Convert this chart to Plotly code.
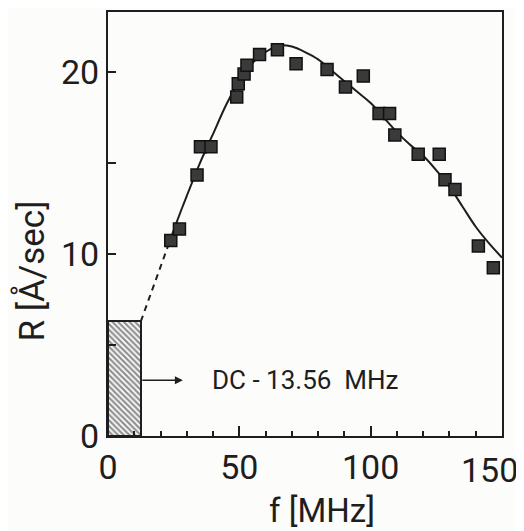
import plotly.graph_objects as go

# Measured deposition rate points (f in MHz, R in Å/sec)
f_points = [23.9, 27.2, 33.9, 35.2, 39.2, 49.0, 49.6, 51.8, 52.9, 57.7, 64.5, 71.6,
            83.4, 90.4, 97.2, 103.2, 107.2, 109.2, 118.1, 126.1, 128.3, 132.1, 141.0, 146.7]
R_points = [10.75, 11.37, 14.34, 15.89, 15.89, 18.63, 19.36, 19.89, 20.38, 20.96, 21.23, 20.45,
            20.14, 19.18, 19.78, 17.72, 17.72, 16.54, 15.48, 15.48, 14.08, 13.54, 10.44, 9.25]

# Fitted curve (solid)
curve_f = [24, 26, 30, 35, 40, 45, 50, 55, 60, 65, 70, 75, 80, 85, 90, 95, 100,
           105, 110, 115, 120, 125, 130, 135, 140, 145, 150]
curve_R = [10.9, 11.7, 13.2, 15.0, 16.6, 18.2, 19.5, 20.5, 21.1, 21.45, 21.4, 21.1, 20.7,
           20.1, 19.5, 18.9, 18.3, 17.5, 16.7, 16.0, 15.4, 14.6, 13.7, 12.6, 11.5, 10.6, 9.8]

# Dashed extrapolation towards the DC - 13.56 MHz band
dashed_f = [12.5, 18, 24]
dashed_R = [6.3, 8.5, 10.9]

# DC - 13.56 MHz band (hatched)
band_f_start = 0.0
band_f_end = 12.5
band_R_top = 6.3

y_tickvals = [0, 5, 10, 15, 20]
y_ticktext = ["0", "", "10", "", "20"]
x_tickvals = [0, 50, 100, 150]
x_ticktext = ["0", "50", "100", ""]
x_last_label = "150"

FONT = "Liberation Sans Narrow, Roboto, Liberation Sans, sans-serif"
INK = "#1e1e1e"
BG = "#fcfcfa"

fig = go.Figure()

fig.add_trace(go.Bar(
    x=[(band_f_start + band_f_end) / 2], y=[band_R_top], width=[band_f_end - band_f_start],
    marker=dict(color="white", line=dict(color=INK, width=2),
                pattern=dict(shape="\\", fgcolor="#222", bgcolor="white", size=4, solidity=0.55)),
    showlegend=False, hoverinfo="skip"))

fig.add_trace(go.Scatter(x=dashed_f, y=dashed_R, mode="lines",
                         line=dict(color=INK, width=2, dash="6px,5px"),
                         showlegend=False))

fig.add_trace(go.Scatter(x=curve_f, y=curve_R, mode="lines",
                         line=dict(color=INK, width=2, shape="spline", smoothing=0.8),
                         showlegend=False))

fig.add_trace(go.Scatter(x=f_points, y=R_points, mode="markers",
                         marker=dict(symbol="square", size=12, color="#3a3a3a",
                                     line=dict(color="#111", width=1.5)),
                         showlegend=False))

fig.add_annotation(x=28.5, y=3.06, ax=band_f_end, ay=3.06, xref="x", yref="y",
                   axref="x", ayref="y", showarrow=True, arrowhead=2, arrowsize=1,
                   arrowwidth=1.6, arrowcolor=INK, text="")
fig.add_annotation(x=38.8, y=3.06, xref="x", yref="y", xanchor="left", yanchor="middle",
                   text="DC - 13.56  MHz", showarrow=False,
                   font=dict(family=FONT, size=26, color=INK))

# last x tick label, kept inside the page
fig.add_annotation(x=150, y=-0.08, xref="x", yref="paper", text=x_last_label,
                   xanchor="right", yanchor="middle", xshift=18, showarrow=False,
                   font=dict(family=FONT, size=34, color=INK))

fig.add_annotation(x=-0.193, y=0.39, xref="paper", yref="paper", text="R [Å/sec]",
                   textangle=-90, showarrow=False, xanchor="center", yanchor="middle",
                   font=dict(family=FONT, size=35, color=INK))
fig.add_annotation(x=0.543, y=-0.175, xref="paper", yref="paper", text="f [MHz]",
                   showarrow=False, xanchor="center", yanchor="middle",
                   font=dict(family=FONT, size=33, color=INK))

fig.update_xaxes(range=[0, 150], tickvals=x_tickvals, ticktext=x_ticktext,
                 ticks="inside", ticklen=10, tickwidth=2, tickcolor=INK,
                 minor=dict(dtick=10, ticks="inside", ticklen=5, tickwidth=1.5, tickcolor=INK),
                 showline=True, linecolor=INK, linewidth=2, mirror=True,
                 showgrid=False, zeroline=False, ticklabeloverflow="allow",
                 tickfont=dict(family=FONT, size=34, color=INK))
fig.update_yaxes(range=[0, 23.3], tickvals=y_tickvals, ticktext=y_ticktext,
                 ticks="inside", ticklen=8, tickwidth=2, tickcolor=INK,
                 showline=True, linecolor=INK, linewidth=2, mirror=True,
                 showgrid=False, zeroline=False, ticklabeloverflow="allow",
                 tickfont=dict(family=FONT, size=34, color=INK))

# page body has an 8px default margin, so the figure is shrunk and shifted by 8px
fig.update_layout(width=516, height=523, margin=dict(l=100, r=22, t=2, b=95),
                  paper_bgcolor=BG, plot_bgcolor=BG, bargap=0,
                  font=dict(family=FONT, color=INK))

fig.write_html("out.html")
